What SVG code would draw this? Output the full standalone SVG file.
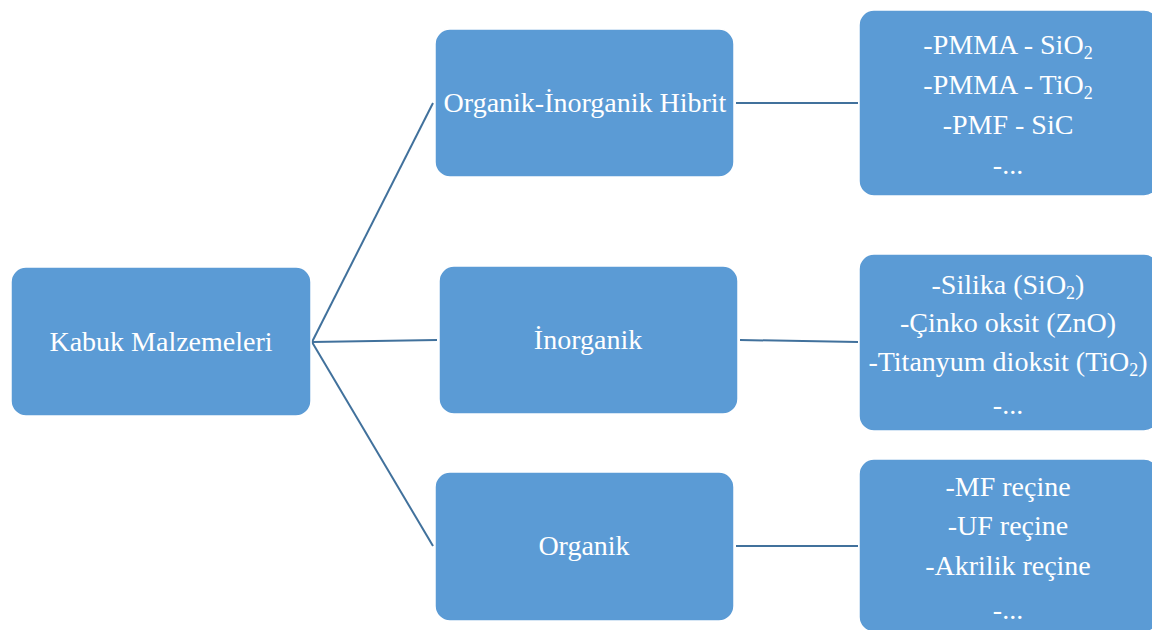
<svg xmlns="http://www.w3.org/2000/svg" width="1152" height="630" viewBox="0 0 1152 630">
<style>
.box{fill:#5B9BD5;stroke:#FFFFFF;stroke-width:1.5}
.t{font-family:'Liberation Serif','DejaVu Serif',serif;font-size:28px;fill:#FFFFFF;text-anchor:middle}
.sub{font-size:18px}
.c{stroke:#41719C;stroke-width:2;fill:none}
</style>
<rect width="1152" height="630" fill="#FFFFFF"/>
<g id="connectors">
<line class="c" x1="312" y1="342" x2="433" y2="103"/>
<line class="c" x1="312" y1="342" x2="437" y2="340"/>
<line class="c" x1="312" y1="342" x2="433" y2="546"/>
<line class="c" x1="736" y1="103" x2="858" y2="103"/>
<line class="c" x1="740" y1="340" x2="858" y2="342"/>
<line class="c" x1="736" y1="546" x2="858" y2="546"/>
</g>
<g id="root">
<rect class="box" x="11" y="267" width="300" height="149" rx="15"/>
<text class="t" x="161" y="351">Kabuk Malzemeleri</text>
</g>
<g id="hybrid">
<rect class="box" x="435" y="29" width="299" height="148" rx="15"/>
<text class="t" x="585" y="112">Organik-İnorganik Hibrit</text>
</g>
<g id="inorganic">
<rect class="box" x="439" y="266" width="299" height="148" rx="15"/>
<text class="t" x="588" y="349">İnorganik</text>
</g>
<g id="organic">
<rect class="box" x="435" y="472" width="299" height="149" rx="15"/>
<text class="t" x="584" y="555">Organik</text>
</g>
<g id="hybrid-list">
<rect class="box" x="859" y="10" width="300" height="186" rx="15"/>
<text class="t" x="1008" y="54">-PMMA - SiO<tspan class="sub" dy="5">2</tspan></text>
<text class="t" x="1008" y="94">-PMMA - TiO<tspan class="sub" dy="5">2</tspan></text>
<text class="t" x="1008" y="134">-PMF - SiC</text>
<text class="t" x="1008" y="174">-...</text>
</g>
<g id="inorganic-list">
<rect class="box" x="859" y="254" width="300" height="177" rx="15"/>
<text class="t" x="1008" y="294">-Silika (SiO<tspan class="sub" dy="5">2</tspan><tspan dy="-5">)</tspan></text>
<text class="t" x="1008" y="332">-Çinko oksit (ZnO)</text>
<text class="t" x="1008" y="371">-Titanyum dioksit (TiO<tspan class="sub" dy="5">2</tspan><tspan dy="-5">)</tspan></text>
<text class="t" x="1008" y="414">-...</text>
</g>
<g id="organic-list">
<rect class="box" x="859" y="459" width="300" height="173" rx="15"/>
<text class="t" x="1008" y="496">-MF reçine</text>
<text class="t" x="1008" y="535">-UF reçine</text>
<text class="t" x="1008" y="575">-Akrilik reçine</text>
<text class="t" x="1008" y="619">-...</text>
</g>
</svg>
